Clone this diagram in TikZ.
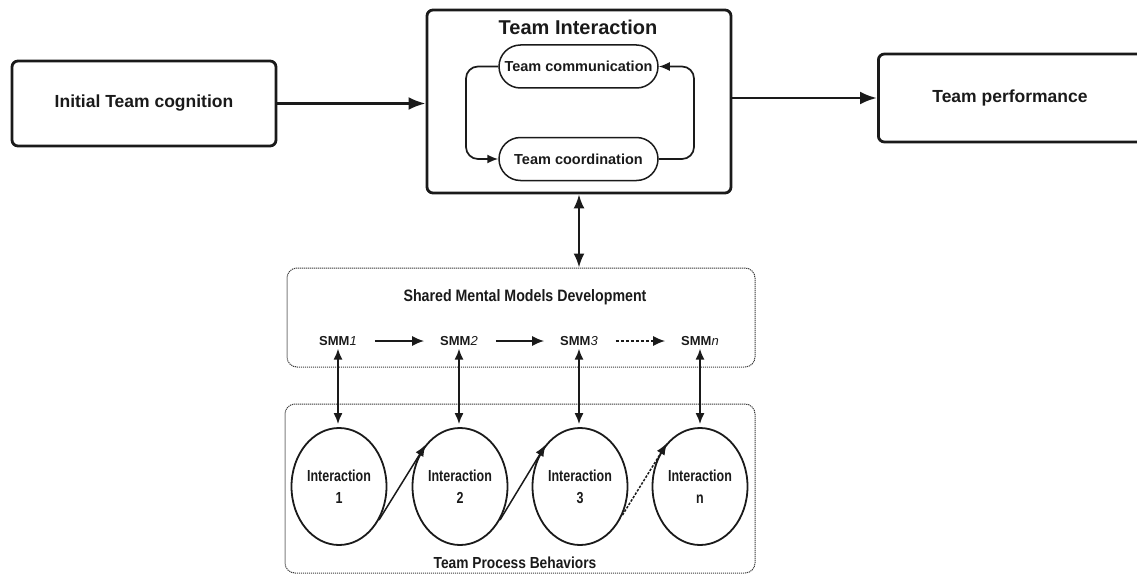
\documentclass[tikz,border=0pt]{standalone}
\usepackage{fontspec}
\setmainfont{Liberation Sans}
\newfontfamily\narrowfont[FakeStretch=0.86]{Liberation Sans}
\newfontfamily\intfont[FakeStretch=0.78]{Liberation Sans}
\usetikzlibrary{arrows.meta,shapes.misc,shapes.geometric}
\definecolor{ink}{HTML}{1A1A1A}
\tikzset{
  mainbox/.style={draw=ink, line width=2.8pt, rounded corners=6pt, inner sep=0pt,
    text=ink, font=\fontsize{17.5}{21}\selectfont\bfseries},
  pill/.style={draw=ink, line width=1.5pt, rounded rectangle, minimum width=159pt,
    minimum height=43pt, inner sep=0pt, text=ink, font=\fontsize{14.5}{17}\selectfont\bfseries},
  dotbox/.style={draw=ink!85, line width=1pt, dash pattern=on 1.2pt off 0.8pt,
    rounded corners=10pt, inner sep=0pt},
  smmlabel/.style={inner sep=0pt, outer sep=2pt, text=ink, font=\fontsize{13}{15}\selectfont\bfseries},
  intcircle/.style={draw=ink, line width=1.8pt, ellipse, minimum width=95pt,
    minimum height=117pt, inner sep=0pt, align=center, text=ink,
    font=\intfont\fontsize{16}{22}\selectfont\bfseries},
  boxtitle/.style={inner sep=0pt, text=ink, font=\narrowfont\fontsize{16.5}{20}\selectfont\bfseries},
  bigarrow/.style={draw=ink, line width=2.8pt, -{Latex[length=17pt, width=13pt]}},
  dblarrow/.style={draw=ink, line width=2.2pt, {Latex[length=14pt, width=11pt]}-{Latex[length=14pt, width=11pt]}},
  looparrow/.style={draw=ink, line width=1.7pt, rounded corners=12pt, -{Latex[length=11pt, width=9pt]}},
  smmarrow/.style={draw=ink, line width=1.8pt, -{Latex[length=12pt, width=10pt]}},
  vertarrow/.style={draw=ink, line width=1.7pt, {Latex[length=11pt, width=9pt]}-{Latex[length=11pt, width=9pt]}},
  diagarrow/.style={draw=ink, line width=1.5pt, -{Latex[length=12pt, width=9pt]}},
}
\begin{document}
\begin{tikzpicture}[x=1pt, y=-1pt]
\useasboundingbox (0,0) rectangle (1137,575);

% top row
\node[mainbox, minimum width=264pt, minimum height=85pt] (itc) at (144,103.5) {Initial Team cognition};
\node[mainbox, minimum width=304pt, minimum height=183pt] (ti) at (579,101.5) {};
\node[inner sep=0pt, text=ink, font=\fontsize{20}{24}\selectfont\bfseries] (tititle) at (578,27) {Team Interaction};
\node[mainbox, minimum width=280pt, minimum height=88pt, anchor=west] (tp) at (877,98) {};
\node[inner sep=0pt, text=ink, font=\fontsize{17.5}{21}\selectfont\bfseries] (tptext) at (1010,98) {Team performance};

\node[pill] (comm) at (578.5,66.5) {Team communication};
\node[pill] (coord) at (578.5,159) {Team coordination};

\coordinate (lc) at (466,112);
\coordinate (rc) at (694,112);
\draw[looparrow] (comm.west) -| (lc) |- (coord.west);
\draw[looparrow] (coord.east) -| (rc) |- (comm.east);

\draw[bigarrow] (itc.east) -- (itc.east -| ti.west);
\draw[bigarrow] (tp.west -| ti.east) -- (tp.west);

% shared mental models
\node[dotbox, minimum width=468pt, minimum height=99pt] (smmbox) at (521,317.5) {};
\node[boxtitle] (smmtitle) at (525,297) {Shared Mental Models Development};
\draw[dblarrow] (ti.south) -- (ti.south |- smmbox.north);

\node[smmlabel] (s1) at (338,341) {SMM\textit{\mdseries 1}};
\node[smmlabel] (s2) at (459,341) {SMM\textit{\mdseries 2}};
\node[smmlabel] (s3) at (579,341) {SMM\textit{\mdseries 3}};
\node[smmlabel] (s4) at (700,341) {SMM\textit{\mdseries n}};

\draw[smmarrow, shorten <=16pt, shorten >=14pt] (s1.east) -- (s2.west);
\draw[smmarrow, shorten <=16pt, shorten >=14pt] (s2.east) -- (s3.west);
\draw[smmarrow, dash pattern=on 3pt off 2pt, shorten <=16pt, shorten >=14pt] (s3.east) -- (s4.west);

% team process behaviors
\node[dotbox, minimum width=470pt, minimum height=169pt] (tpbox) at (520,488.5) {};
\node[boxtitle, font=\narrowfont\fontsize{16}{20}\selectfont\bfseries] (tptitle) at (515,563) {Team Process Behaviors};

\node[intcircle] (c1) at (339,486.5) {Interaction\\1};
\node[intcircle] (c2) at (460,486.5) {Interaction\\2};
\node[intcircle] (c3) at (580,486.5) {Interaction\\3};
\node[intcircle] (c4) at (700,486.5) {Interaction\\n};

\draw[vertarrow, shorten <=1pt, shorten >=3pt] (s1.south) -- (s1.south |- c1.north);
\draw[vertarrow, shorten <=1pt, shorten >=3pt] (s2.south) -- (s2.south |- c2.north);
\draw[vertarrow, shorten <=1pt, shorten >=3pt] (s3.south) -- (s3.south |- c3.north);
\draw[vertarrow, shorten <=1pt, shorten >=3pt] (s4.south) -- (s4.south |- c4.north);

\draw[diagarrow] (c1.-40) -- (c2.129);
\draw[diagarrow] (c2.-40) -- (c3.129);
\draw[diagarrow, dash pattern=on 2.5pt off 1.5pt] (c3.-34) -- (c4.127);
\end{tikzpicture}
\end{document}
